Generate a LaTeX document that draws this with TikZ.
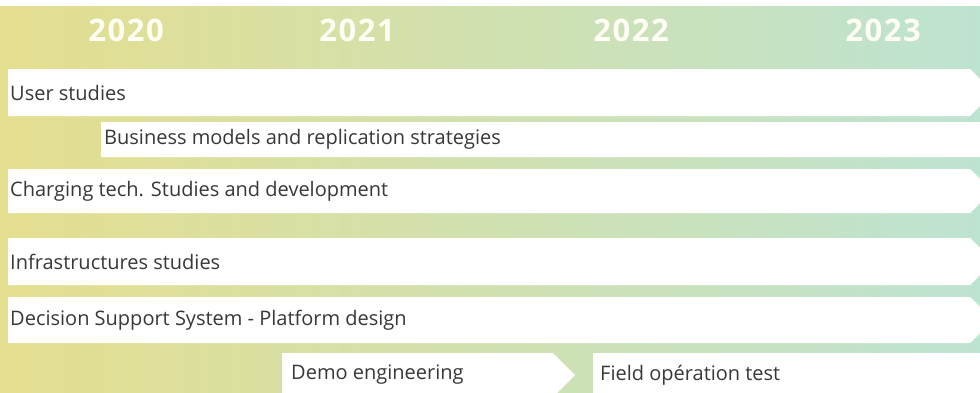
\documentclass[tikz,border=0pt]{standalone}
\usepackage{fontspec}
\setmainfont{Open Sans}
\newfontfamily\yearfont[LetterSpace=5]{Open Sans}
\usetikzlibrary{positioning}

\definecolor{leftbg}{HTML}{E4DE8F}
\definecolor{rightbg}{HTML}{BDE3D1}
\definecolor{labelgray}{HTML}{383838}

\tikzset{
  bar/.style={fill=white},
  task/.style={anchor=west, inner sep=0pt, text=labelgray, font=\fontsize{20}{24}\selectfont},
  year/.style={text=white!96!yellow, font=\yearfont\fontsize{31}{36}\selectfont\bfseries}
}

\begin{document}
\begin{tikzpicture}[x=1pt,y=-1pt]
  \useasboundingbox (0,0) rectangle (980,392);
  \clip (0,0) rectangle (980,392);
  % background
  \shade[left color=leftbg, right color=rightbg] (0,6) rectangle (980,392);

  % years
  \node[year] (y2020) at (126,30) {2020};
  \node[year] (y2021) at (357,30) {2021};
  \node[year] (y2022) at (631,30) {2022};
  \node[year] (y2023) at (883,30) {2023};

  % bars
  \fill[bar] (8,69) -- (970,69) -- (993.5,92.5) -- (970,116) -- (8,116) -- cycle;
  \fill[bar] (101,122) -- (982,122) -- (999.5,139.5) -- (982,157) -- (101,157) -- cycle;
  \fill[bar] (8,169) -- (970,169) -- (992,191) -- (970,213) -- (8,213) -- cycle;
  \fill[bar] (8,238) -- (970,238) -- (993.5,261.5) -- (970,285) -- (8,285) -- cycle;
  \fill[bar] (8,297) -- (970,297) -- (993,320) -- (970,343) -- (8,343) -- cycle;
  \fill[bar] (282,353) -- (553,353) -- (575,375) -- (553,397) -- (282,397) -- cycle;
  \fill[bar] (593,353) -- (990,353) -- (1012,375) -- (990,397) -- (593,397) -- cycle;

  % labels
  \node[task] (users) at (10,92.5) {User studies};
  \node[task] (business) at (104,139.5) {Business models and replication strategies};
  \node[task] (charging) at (10,191) {Charging tech. Studies and development};
  \node[task] (infra) at (10,261.5) {Infrastructures studies};
  \node[task] (dss) at (10,320) {Decision Support System - Platform design};
  \node[task] (demo) at (291,375) {Demo engineering};
  \node[task] (field) at (600,375) {Field opération test};
\end{tikzpicture}
\end{document}
